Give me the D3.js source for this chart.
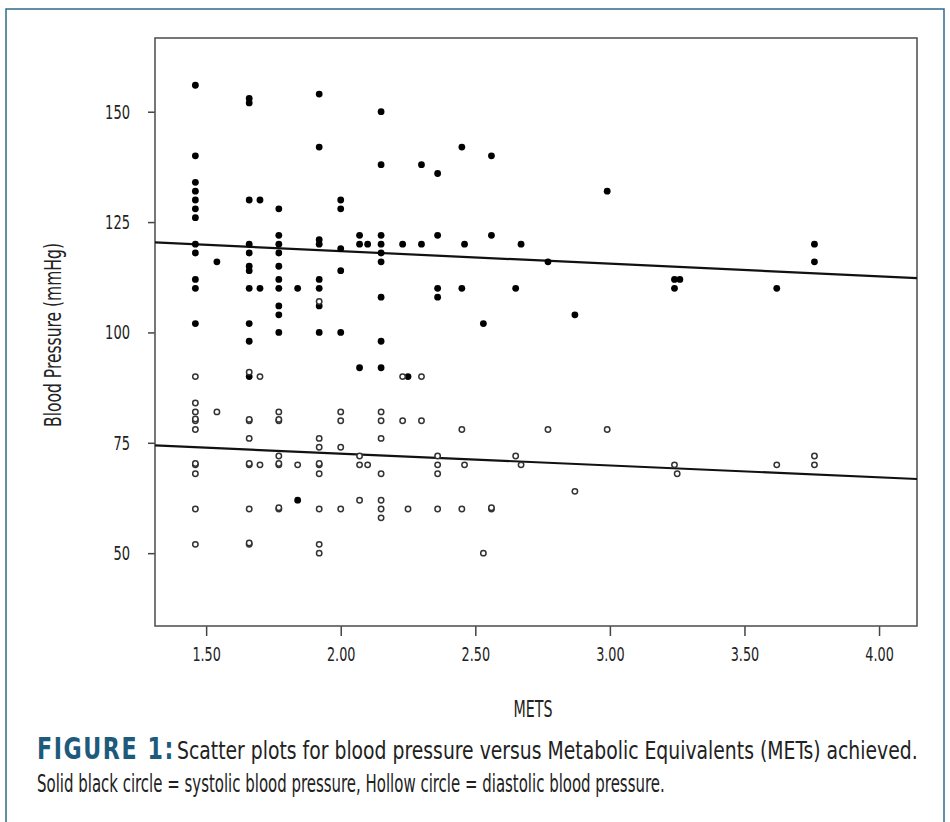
<!DOCTYPE html>
<html lang="en">
<head>
<meta charset="utf-8">
<script src="https://d3js.org/d3.v7.min.js"></script>
<style>
  body { margin: 0; background: #fff; }
  text { font-family: "Liberation Sans Narrow", "DejaVu Sans Condensed", "Roboto Condensed", sans-serif; fill: #222; }
</style>
</head>
<body>
<script>
// systolic readings [METS, mmHg] (solid dots)
const systolic = [
  [1.46,156],[1.46,140],[1.46,134],[1.46,132],[1.46,130],[1.46,128],[1.46,126],[1.46,120],[1.46,118],[1.46,112],[1.46,110],[1.46,102],
  [1.54,116],
  [1.66,153],[1.66,152],[1.66,130],[1.66,120],[1.66,118],[1.66,115],[1.66,114],[1.66,110],[1.66,102],[1.66,98],[1.66,90],
  [1.70,130],[1.70,110],
  [1.77,128],[1.77,122],[1.77,120],[1.77,118],[1.77,115],[1.77,112],[1.77,110],[1.77,106],[1.77,104],[1.77,100],
  [1.84,110],[1.84,62],
  [1.92,154],[1.92,142],[1.92,121],[1.92,120],[1.92,112],[1.92,110],[1.92,106],[1.92,100],
  [2.00,130],[2.00,128],[2.00,119],[2.00,114],[2.00,100],
  [2.07,122],[2.07,120],[2.07,92],
  [2.10,120],
  [2.15,150],[2.15,138],[2.15,122],[2.15,120],[2.15,118],[2.15,116],[2.15,108],[2.15,98],[2.15,92],
  [2.23,120],[2.25,90],
  [2.30,138],[2.30,120],
  [2.36,136],[2.36,122],[2.36,110],[2.36,108],
  [2.45,142],[2.45,110],[2.46,120],
  [2.53,102],
  [2.56,140],[2.56,122],
  [2.65,110],[2.67,120],
  [2.77,116],[2.87,104],[2.99,132],
  [3.24,112],[3.24,110],[3.26,112],
  [3.62,110],
  [3.76,120],[3.76,116]
];

// diastolic readings [METS, mmHg] (hollow dots)
const diastolic = [
  [1.46,90],[1.46,84],[1.46,82],[1.46,80],[1.46,80.4],[1.46,78],[1.46,70],[1.46,70.3],[1.46,68],[1.46,60],[1.46,52],
  [1.54,82],
  [1.66,91],[1.66,80],[1.66,80.3],[1.66,76],[1.66,70],[1.66,70.3],[1.66,60],[1.66,52],[1.66,52.3],
  [1.70,90],[1.70,70],
  [1.77,82],[1.77,80],[1.77,80.3],[1.77,72],[1.77,70],[1.77,70.3],[1.77,60],[1.77,60.3],
  [1.84,70],
  [1.92,107],[1.92,76],[1.92,74],[1.92,70],[1.92,70.3],[1.92,68],[1.92,60],[1.92,52],[1.92,50],
  [2.00,82],[2.00,80],[2.00,74],[2.00,60],
  [2.07,72],[2.07,70],[2.07,62],
  [2.10,70],
  [2.15,82],[2.15,80],[2.15,76],[2.15,68],[2.15,62],[2.15,60],[2.15,58],
  [2.23,90],[2.23,80],[2.25,60],
  [2.30,90],[2.30,80],
  [2.36,72],[2.36,70],[2.36,68],[2.36,60],
  [2.45,78],[2.45,60],[2.46,70],
  [2.53,50],
  [2.56,60],[2.56,60.3],
  [2.65,72],[2.67,70],
  [2.77,78],[2.87,64],[2.99,78],
  [3.24,70],[3.25,68],
  [3.62,70],
  [3.76,72],[3.76,70]
];

// fitted lines, end points
const systolicFit = [[1.31,120.4],[4.141,112.3]];
const diastolicFit = [[1.31,74.4],[4.141,66.8]];

const xTicks = [1.5, 2.0, 2.5, 3.0, 3.5, 4.0];
const yTicks = [50, 75, 100, 125, 150];

const width = 950, height = 822;
const plotLeft = 155, plotRight = 917, plotTop = 38, plotBottom = 626;

const svg = d3.select("body").append("svg")
  .attr("width", width)
  .attr("height", height);

// outer frame
svg.append("rect")
  .attr("x", 6).attr("y", 9)
  .attr("width", 938).attr("height", 830)
  .attr("fill", "none")
  .attr("stroke", "#2d6b8c")
  .attr("stroke-width", 1.5);

const x = d3.scaleLinear().domain([1.31, 4.141]).range([plotLeft, plotRight]);
const y = d3.scaleLinear().domain([33.5, 166.7]).range([plotBottom, plotTop]);

// axes
const xAxis = svg.append("g")
  .attr("transform", "translate(0," + plotBottom + ")")
  .call(d3.axisBottom(x).tickValues(xTicks).tickFormat(d3.format(".2f")).tickSize(10).tickPadding(11));

const yAxis = svg.append("g")
  .attr("transform", "translate(" + plotLeft + ",0)")
  .call(d3.axisLeft(y).tickValues(yTicks).tickSize(7).tickPadding(18));

// narrow tick labels, like the condensed face of the original
const labelWidth = s => s.replace(/\./g, "").length * 8.3 + (s.includes(".") ? 3.6 : 0);

[xAxis, yAxis].forEach(g => {
  g.attr("font-family", null).attr("font-size", null);
  g.select(".domain").remove();
  g.selectAll("line").attr("stroke", "#444").attr("stroke-width", 1.5);
  g.selectAll("text")
    .attr("font-size", 20)
    .attr("fill", "#222")
    .attr("textLength", function () { return labelWidth(this.textContent); })
    .attr("lengthAdjust", "spacingAndGlyphs");
});

// plot box
svg.append("rect")
  .attr("x", plotLeft).attr("y", plotTop)
  .attr("width", plotRight - plotLeft).attr("height", plotBottom - plotTop)
  .attr("fill", "none")
  .attr("stroke", "#555")
  .attr("stroke-width", 1.6);

// regression lines
const line = d3.line().x(d => x(d[0])).y(d => y(d[1]));
[systolicFit, diastolicFit].forEach(f => {
  svg.append("path")
    .datum(f)
    .attr("fill", "none")
    .attr("stroke", "#111")
    .attr("stroke-width", 2.2)
    .attr("d", line);
});

// points
svg.selectAll(".sys")
  .data(systolic)
  .enter()
  .append("circle")
  .attr("class", "sys")
  .attr("cx", d => x(d[0]))
  .attr("cy", d => y(d[1]))
  .attr("r", 3.4)
  .attr("fill", "#000");

svg.selectAll(".dia")
  .data(diastolic)
  .enter()
  .append("circle")
  .attr("class", "dia")
  .attr("cx", d => x(d[0]))
  .attr("cy", d => y(d[1]))
  .attr("r", 2.7)
  .attr("fill", "#fff")
  .attr("stroke", "#333")
  .attr("stroke-width", 1.5);

// squeeze a text horizontally so it spans w pixels (condensed look)
function fit(t, pos, w) {
  const s = w / t.node().getComputedTextLength();
  t.attr("transform", pos + " scale(" + s + ",1)");
}

// axis titles
const metsLabel = svg.append("text")
  .attr("text-anchor", "middle")
  .attr("font-size", 23)
  .text("METS");
fit(metsLabel, "translate(533,717)", 39);

const bpLabel = svg.append("text")
  .attr("text-anchor", "middle")
  .attr("font-size", 23)
  .text("Blood Pressure (mmHg)");
fit(bpLabel, "translate(61,335) rotate(-90)", 184);

// caption
const figLabel = svg.append("text")
  .attr("font-size", 31)
  .attr("font-weight", "bold")
  .attr("letter-spacing", 2)
  .style("fill", "#1d5a7c")
  .text("FIGURE 1:");
fit(figLabel, "translate(37,759)", 138);

const cap1 = svg.append("text")
  .attr("font-size", 24)
  .text("Scatter plots for blood pressure versus Metabolic Equivalents (METs) achieved.");
fit(cap1, "translate(177,759)", 741);

const cap2 = svg.append("text")
  .attr("font-size", 24)
  .text("Solid black circle = systolic blood pressure, Hollow circle = diastolic blood pressure.");
fit(cap2, "translate(37,792)", 628);
</script>
</body>
</html>
